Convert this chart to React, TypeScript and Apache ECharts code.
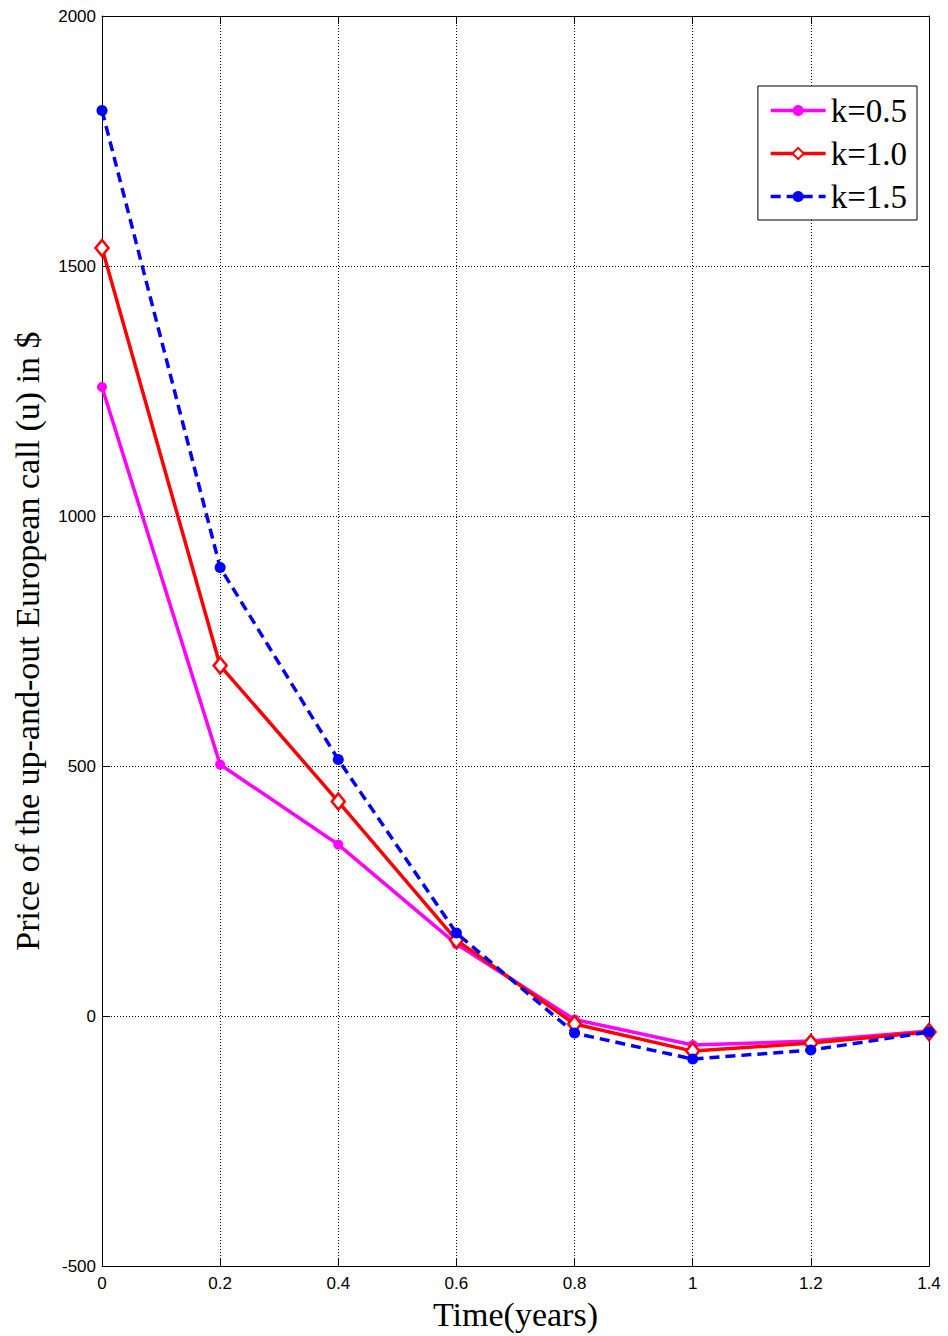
import React, { useEffect, useRef } from "react";
import * as echarts from "echarts";

const times = [0, 0.2, 0.4, 0.6, 0.8, 1.0, 1.2, 1.4];
const priceK05 = [1258, 503, 343, 144, -7, -58, -50, -30];
const priceK10 = [1536, 701, 429, 152, -16, -70, -54, -32];
const priceK15 = [1811, 897, 513, 166, -34, -86, -68, -32];

const xTicks = { min: 0, max: 1.4, interval: 0.2 };
const yTicks = { min: -500, max: 2000, interval: 500 };

const serif = "'Liberation Serif', 'Times New Roman', serif";
const sans = "'Liberation Sans', Arial, sans-serif";

const pairs = (ys: number[]) => times.map((t, i) => [t, ys[i]]);

export default function App() {
  const ref = useRef<HTMLDivElement>(null);

  useEffect(() => {
    if (!ref.current) return;
    const chart = echarts.init(ref.current, null, { renderer: "svg" });

    const fmtX = (v: number) => String(Math.round(v * 10) / 10);
    const fmtY = (v: number) => String(Math.round(v));

    const frameAxis = {
      axisLine: { show: true, onZero: false, lineStyle: { color: "#000", width: 1 } },
      axisTick: { show: true, inside: true, length: 8, lineStyle: { color: "#000" } },
      axisLabel: { show: false },
      splitLine: { show: false },
    };

    chart.setOption({
      animation: false,
      backgroundColor: "#fff",
      grid: { left: 102, right: 19, top: 16, bottom: 68 },
      legend: {
        orient: "vertical",
        right: 31,
        top: 86,
        padding: [8, 10, 7, 11],
        itemGap: 10,
        itemWidth: 55,
        itemHeight: 14,
        borderColor: "#000",
        borderWidth: 1,
        borderRadius: 0,
        backgroundColor: "#fff",
        lineStyle: { width: 3.5 },
        textStyle: { fontFamily: serif, fontSize: 33, color: "#000" },
        data: ["k=0.5", "k=1.0", "k=1.5"],
      },
      xAxis: [
        {
          type: "value",
          ...xTicks,
          name: "Time(years)",
          nameLocation: "middle",
          nameGap: 28,
          nameTextStyle: { fontFamily: serif, fontSize: 34, color: "#000" },
          axisLine: { onZero: false, lineStyle: { color: "#000", width: 1 } },
          axisTick: { inside: true, length: 8, lineStyle: { color: "#000" } },
          axisLabel: { fontFamily: sans, fontSize: 17, color: "#000", margin: 9, formatter: fmtX },
          splitLine: { show: true, lineStyle: { color: "#000", type: [1, 2], width: 1 } },
        },
        { type: "value", ...xTicks, position: "top", ...frameAxis },
      ],
      yAxis: [
        {
          type: "value",
          ...yTicks,
          name: "Price of the up-and-out European call (u) in $",
          nameLocation: "middle",
          nameGap: 58,
          nameTextStyle: { fontFamily: serif, fontSize: 34, color: "#000" },
          axisLine: { show: true, onZero: false, lineStyle: { color: "#000", width: 1 } },
          axisTick: { show: true, inside: true, length: 8, lineStyle: { color: "#000" } },
          axisLabel: { fontFamily: sans, fontSize: 17, color: "#000", margin: 6, formatter: fmtY },
          splitLine: { show: true, lineStyle: { color: "#000", type: [1, 2], width: 1 } },
        },
        { type: "value", ...yTicks, position: "right", ...frameAxis },
      ],
      series: [
        {
          name: "k=0.5",
          type: "line",
          data: pairs(priceK05),
          symbol: "circle",
          symbolSize: 10,
          color: "#ff00ff",
          lineStyle: { width: 3.5, color: "#ff00ff" },
          itemStyle: { color: "#ff00ff" },
          z: 2,
        },
        {
          name: "k=1.0",
          type: "line",
          data: pairs(priceK10),
          symbol: "diamond",
          symbolSize: [13, 16],
          color: "#ff0000",
          lineStyle: { width: 3.5, color: "#ff0000" },
          itemStyle: { color: "#fff", borderColor: "#ff0000", borderWidth: 2.5 },
          z: 3,
        },
        {
          name: "k=1.5",
          type: "line",
          data: pairs(priceK15),
          symbol: "circle",
          symbolSize: 11,
          color: "#0000ff",
          lineStyle: { width: 3.5, color: "#0000ff", type: [10, 6] },
          itemStyle: { color: "#0000ff" },
          z: 4,
        },
      ],
    });

    return () => chart.dispose();
  }, []);

  return (
    <div
      ref={ref}
      style={{ width: 948, height: 1336, position: "absolute", left: 0, top: 0 }}
    />
  );
}
